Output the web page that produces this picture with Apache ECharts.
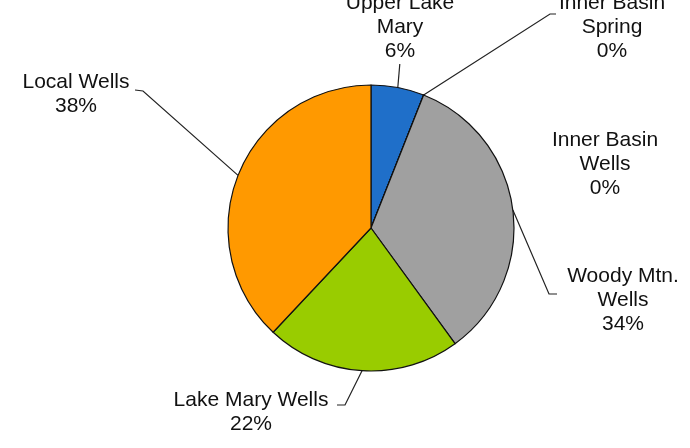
<!DOCTYPE html>
<html>
<head>
<meta charset="utf-8">
<script src="https://cdn.jsdelivr.net/npm/echarts@6/dist/echarts.min.js"></script>
<style>
  html, body { margin: 0; padding: 0; background: #ffffff; }
  #chart { width: 690px; height: 448px; }
</style>
</head>
<body>
<div id="chart"></div>
<script>
// Water supply sources, clockwise from 12 o'clock
const sources = ['Upper Lake Mary', 'Inner Basin Spring', 'Inner Basin Wells', 'Woody Mtn. Wells', 'Lake Mary Wells', 'Local Wells'];
const labelNames = ['Upper Lake\nMary', 'Inner Basin\nSpring', 'Inner Basin\nWells', 'Woody Mtn.\nWells', 'Lake Mary Wells', 'Local Wells'];
const shares = [6, 0, 0, 34, 22, 38];
const sliceColors = ['#1f6fc9', '#1f6fc9', '#1f6fc9', '#a0a0a0', '#99cc00', '#ff9900'];

// Where each label block sits (its centre) and the bend/tail of its leader line.
const labelSpots = [
  { x: 400, y: 27, line: 'vertical', top: 64 },
  { x: 612, y: 27, line: [[550, 14], [556, 14]] },
  { x: 605, y: 164, line: null },
  { x: 623, y: 300, line: [[549, 294], [557, 294]] },
  { x: 251, y: 412, line: [[345, 405], [337, 405]] },
  { x: 76, y: 94, line: [[143, 91], [135, 90]] }
];

const chart = echarts.init(document.getElementById('chart'), null, { renderer: 'canvas' });

chart.setOption({
  backgroundColor: '#ffffff',
  animation: false,
  series: [{
    type: 'pie',
    center: [371, 228],
    radius: 143,
    startAngle: 90,
    clockwise: true,
    avoidLabelOverlap: false,
    minShowLabelAngle: 0,
    itemStyle: { borderColor: '#111111', borderWidth: 1.2 },
    emphasis: { disabled: true },
    label: {
      show: true,
      position: 'outside',
      fontFamily: 'Liberation Sans, Arial, sans-serif',
      fontSize: 21,
      lineHeight: 24,
      color: '#111111',
      formatter: p => labelNames[p.dataIndex] + '\n' + p.percent + '%'
    },
    labelLine: {
      show: true,
      length: 10,
      length2: 10,
      lineStyle: { color: '#222222', width: 1.2 }
    },
    labelLayout: function (p) {
      const spot = labelSpots[p.dataIndex];
      const out = { x: spot.x, y: spot.y, align: 'center', verticalAlign: 'middle' };
      const anchor = p.labelLinePoints ? p.labelLinePoints[0] : null;
      if (anchor && spot.line === 'vertical') {
        out.labelLinePoints = [anchor, [anchor[0] + 2, spot.top], [anchor[0] + 2, spot.top]];
      } else if (anchor && spot.line) {
        out.labelLinePoints = [anchor].concat(spot.line);
      }
      return out;
    },
    data: sources.map((name, i) => ({
      name: name,
      value: shares[i],
      itemStyle: { color: sliceColors[i] },
      labelLine: { show: labelSpots[i].line !== null }
    }))
  }]
});
</script>
</body>
</html>
